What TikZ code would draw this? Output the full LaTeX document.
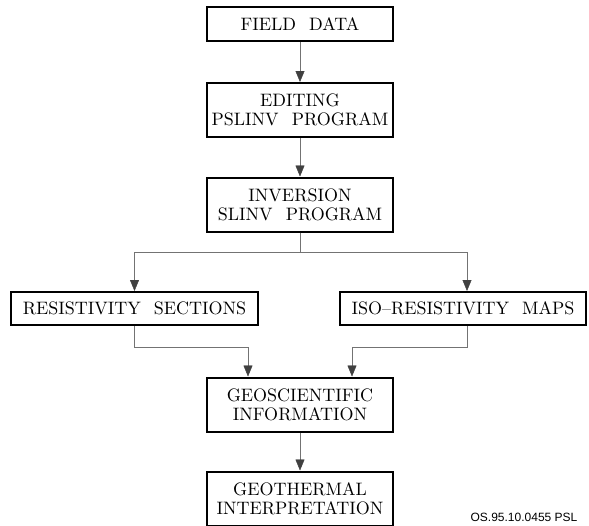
\documentclass[tikz,border=0pt]{standalone}
\usepackage{fontspec}
\newfontfamily\labelfont{Liberation Sans}
\newfontfamily\boxfont{lmroman10-regular.otf}[WordSpace=2.2,Ligatures=TeX]
\usetikzlibrary{arrows.meta}

\begin{document}
\begin{tikzpicture}[x=1pt,y=1pt,-{Triangle[width=9pt,length=11pt,color=black!75]},
                    draw=black!55,thin,node distance=94pt]
      \tikzstyle{box}=[draw=black,line width=2pt,rectangle,align=center,
                       minimum width=186pt,minimum height=34pt,inner sep=2pt,
                       font=\boxfont\fontsize{18}{19}\selectfont]
      \tikzstyle{twoline}=[minimum height=54pt]

      \useasboundingbox (0,0) rectangle (589,-525);

      \node[box] (field) at (300,-24) {FIELD DATA};
      \node[box,twoline] (edit) [below of=field, node distance=86pt] {EDITING\\PSLINV PROGRAM};
      \node[box,twoline] (inv) [below of=edit, node distance=94.5pt] {INVERSION\\SLINV PROGRAM};
      \node[box,minimum width=247pt,minimum height=33pt] (rs)
            [below of=inv, node distance=104pt, xshift=-165.5pt] {RESISTIVITY SECTIONS};
      \node[box,minimum width=246pt,minimum height=33pt] (iso)
            [below of=inv, node distance=104pt, xshift=163pt] {ISO--RESISTIVITY MAPS};
      \node[box,twoline] (geo) [below of=inv, node distance=200pt] {GEOSCIENTIFIC\\INFORMATION};
      \node[box,twoline] (geot) [below of=geo] {GEOTHERMAL\\INTERPRETATION};
      \node[font=\labelfont\fontsize{12}{13}\selectfont] (ref)
            [right of=geot, node distance=224pt, yshift=-18.5pt] {OS.95.10.0455 PSL};

      \draw (field) -- (edit);
      \draw (edit) -- (inv);
      \draw (inv.south) -- ++(0,-20) -| (rs.north);
      \draw (inv.south) -- ++(0,-20) -| ([xshift=4pt]iso.north);
      \draw (rs.south) -- ++(0,-21) -| ([xshift=-52pt]geo.north);
      \draw ([xshift=4pt]iso.south) -- ++(0,-21) -| ([xshift=52pt]geo.north);
      \draw (geo) -- (geot);

  \end{tikzpicture}
\end{document}
